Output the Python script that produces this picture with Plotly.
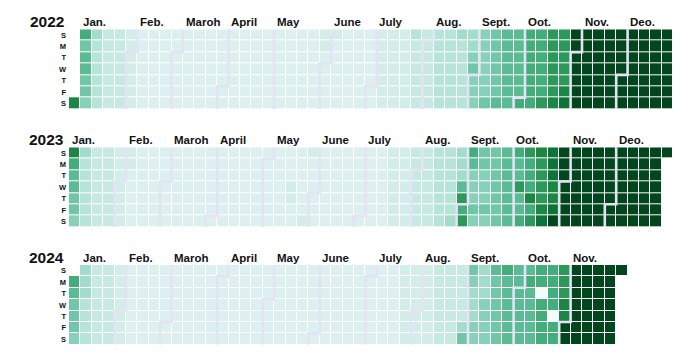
import datetime
import plotly.graph_objects as go

YEARS = [2022, 2023, 2024]
DAY_LABELS = ["S", "M", "T", "W", "T", "F", "S"]
MONTHS_2022 = ["Jan.", "Feb.", "Maroh", "April", "May", "June", "July", "Aug.", "Sept.", "Oot.", "Nov.", "Deo."]
MONTHS_2023 = ["Jan.", "Feb.", "Maroh", "April", "May", "June", "July", "Aug.", "Sept.", "Oot.", "Nov.", "Deo."]
MONTHS_2024 = ["Jan.", "Feb.", "Maroh", "April", "May", "June", "July", "Aug.", "Sept.", "Oot.", "Nov."]

# one string per week column (Sunday..Saturday), level 0..d (hex), '.' = no day
WEEKS_2022 = [
    "......b", "9788776", "5444444", "3333333", "3333333", "2222222", "1111111", "1111111",
    "1111111", "1111111", "1111111", "1111111", "1111111", "1111111", "1111111", "1111111",
    "1111111", "1111111", "1111111", "1111111", "1111111", "1111111", "2211111", "2111111",
    "1111111", "1111111", "1111111", "2222222", "2222222", "2222222", "4333333", "3333333",
    "4444444", "4444444", "5444444", "5567666", "6666667", "7777778", "8888888", "8888889",
    "9999999", "999999a", "aaaaaab", "aaaaabc", "ddddddd", "ddddddd", "ddddddd", "ddddddd",
    "ddddddd", "ddddddd", "ddddddd", "ddddddd", "ddddddd",
]
WEEKS_2023 = [
    "b988776", "5444444", "3333333", "3333333", "2222222", "2211111", "1111111", "1111111",
    "1111111", "1111111", "1111111", "1111111", "1111111", "1111111", "1111111", "1111111",
    "1111111", "1111111", "1111111", "1112211", "1111112", "2111111", "1111111", "1111111",
    "1111111", "1111111", "1111111", "1111111", "2222222", "2222222", "3333333", "3333333",
    "4444444", "4444445", "5558a9a", "9866676", "7766676", "7777777", "8888888", "988a889",
    "a999b9a", "baaaabc", "cccbbcd", "ddddddd", "ddddddd", "ddddddd", "ddddddd", "ddddddd",
    "ddddddd", "ddddddd", "ddddddd", "ddddddd", "d......",
]
WEEKS_2024 = [
    ".987776", "5554444", "3333333", "3333333", "2222222", "1111111", "1111111", "1111111",
    "1111111", "1111111", "1111111", "1111111", "1111111", "1111111", "1111111", "1111111",
    "1111111", "1111111", "1111111", "1111111", "1111111", "1111111", "1111111", "1111111",
    "1111111", "1111111", "1111111", "1111111", "1111111", "2222222", "2222222", "2222222",
    "3333333", "3333333", "3333357", "7655566", "5556666", "8777777", "9888888", "8888888",
    "8988888", "9909999", "9999099", "aaabbdd", "ddddddd", "ddddddd", "ddddddd", "ddddddd",
    "d......",
]

LEVEL_COLORS = [
    "#f4fbfb", "#dbf0ef", "#d3eee9", "#c6eae1", "#b6e4d7", "#a2dcca", "#88d1b9",
    "#70c7a7", "#5abb94", "#43ad7b", "#2c9859", "#1c8744", "#0c7436", "#01461c",
]

WEEKS = {2022: WEEKS_2022, 2023: WEEKS_2023, 2024: WEEKS_2024}
MONTHS = {2022: MONTHS_2022, 2023: MONTHS_2023, 2024: MONTHS_2024}

PAGE_MARGIN = 8  # browser default body margin
W, H = 695 - 2 * PAGE_MARGIN, 357 - 2 * PAGE_MARGIN
X0, CELL = 69.0 - PAGE_MARGIN, 11.4
GRID_TOPS = [29.3 - PAGE_MARGIN, 147.3 - PAGE_MARGIN, 265.0 - PAGE_MARGIN]
LABEL_GAP = 7.5
INK = "#121212"
BOUNDARY = "#e4e2f4"
FONT = "Liberation Sans, Arial, sans-serif"

nmax = max(len(v) for v in WEEKS.values())
nlev = len(LEVEL_COLORS) - 1
colorscale = [[i / nlev, c] for i, c in enumerate(LEVEL_COLORS)]

fig = go.Figure()
shapes, annotations = [], []
layout_axes = {}


def pos(year, d):
    jan1 = datetime.date(year, 1, 1)
    off = (jan1.weekday() + 1) % 7
    idx = (d - jan1).days + off
    return idx // 7, idx % 7


for k, year in enumerate(YEARS):
    weeks = WEEKS[year]
    z = [[None if w[r] == "." else int(w[r], 16) for w in weeks] for r in range(7)]
    yname = "y" if k == 0 else f"y{k + 1}"
    fig.add_trace(go.Heatmap(
        z=z, x=list(range(len(weeks))), y=list(range(7)),
        xaxis="x", yaxis=yname, colorscale=colorscale, zmin=0, zmax=nlev,
        xgap=1, ygap=1, showscale=False, hoverinfo="skip",
    ))
    top = GRID_TOPS[k]
    bot = top + 7 * CELL
    layout_axes["yaxis" if k == 0 else f"yaxis{k + 1}"] = dict(
        domain=[1 - bot / H, 1 - top / H], range=[6.5, -0.5], anchor="x",
        tickvals=list(range(7)), ticktext=DAY_LABELS, ticks="",
        showgrid=False, zeroline=False, showline=False, fixedrange=True,
        automargin=False, ticklabelstandoff=2,
        tickfont=dict(family=FONT, size=7.5, color=INK, weight="bold"),
    )
    label_y = 1 - (top - LABEL_GAP) / H
    # year label
    annotations.append(dict(
        text=str(year), xref="paper", yref="paper", x=X0 / W, y=label_y,
        xanchor="right", yanchor="middle", xshift=-3, showarrow=False,
        font=dict(family=FONT, size=15.5, color=INK, weight="bold"),
    ))
    for m, label in enumerate(MONTHS[year], start=1):
        first = datetime.date(year, m, 1)
        sunday = first + datetime.timedelta(days=(6 - first.weekday()) % 7)
        c_lab, _ = pos(year, sunday)
        annotations.append(dict(
            text=label, xref="x", yref="paper", x=c_lab - 0.5, y=label_y,
            xanchor="left", yanchor="middle", xshift=0.5, showarrow=False,
            font=dict(family=FONT, size=11.5, color=INK, weight="bold"),
        ))
        if m == 1:
            continue
        c, r = pos(year, first)
        if r == 0:
            path = f"M {c - 0.5},-0.5 L {c - 0.5},6.5"
        else:
            path = (f"M {c + 0.5},-0.5 L {c + 0.5},{r - 0.5} "
                    f"L {c - 0.5},{r - 0.5} L {c - 0.5},6.5")
        shapes.append(dict(type="path", path=path, xref="x", yref=yname,
                           line=dict(color=BOUNDARY, width=2.6), layer="above"))

fig.update_layout(
    width=W, height=H, margin=dict(l=0, r=0, t=0, b=0, autoexpand=False),
    paper_bgcolor="white", plot_bgcolor="white", showlegend=False,
    xaxis=dict(domain=[X0 / W, (X0 + nmax * CELL) / W], range=[-0.5, nmax - 0.5],
               visible=False, fixedrange=True, automargin=False),
    shapes=shapes, annotations=annotations,
    **layout_axes,
)

fig.write_html("out.html")
